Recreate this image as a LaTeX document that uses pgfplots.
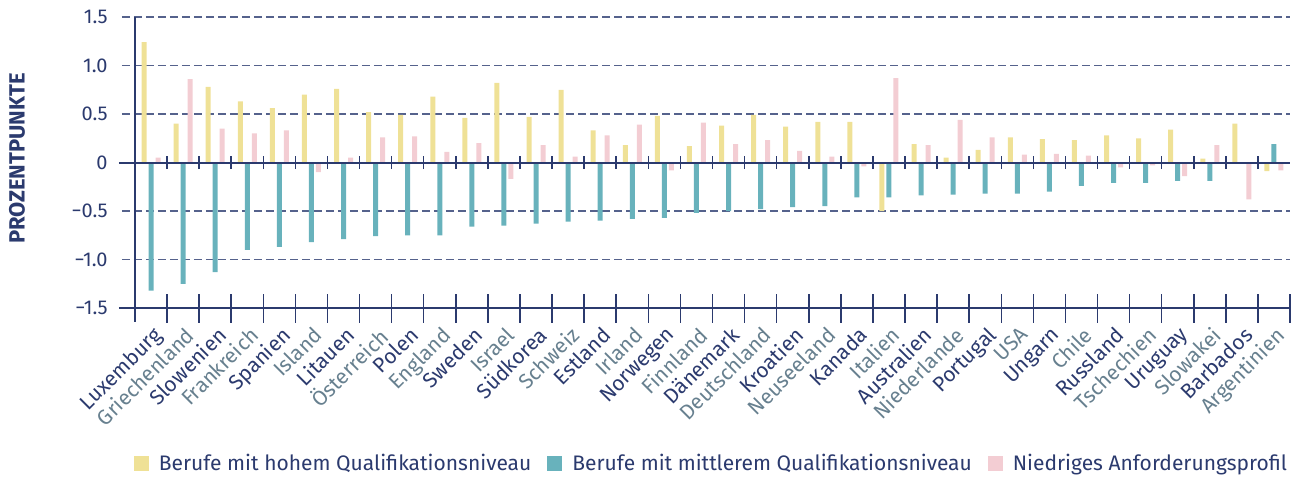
\documentclass[border=0pt]{standalone}
\usepackage{pgfplots}
\usepackage{pgfplotstable}
\pgfplotsset{compat=1.18}
\usepackage{fontspec}
\setmainfont{Fira Sans}
\definecolor{gelb}{RGB}{239,225,150}
\definecolor{petrol}{RGB}{104,178,188}
\definecolor{rosa}{RGB}{243,205,211}
\definecolor{navy}{RGB}{43,58,110}
\definecolor{grau}{RGB}{103,128,143}
\definecolor{gitter}{RGB}{85,98,140}
\newcommand{\cA}[1]{\textcolor{navy}{#1}}
\newcommand{\cB}[1]{\textcolor{grau}{#1}}
\pgfplotsset{ybar legend/.style={legend image code/.code={\fill[##1] (0pt,-3.75pt) rectangle (7.5pt,3.75pt);}}}

% x: Land (0 = Luxemburg ... 35 = Argentinien)
\pgfplotstableread{
x hoch mittel niedrig
0 1.24 -1.32 0.05
1 0.40 -1.25 0.86
2 0.78 -1.13 0.35
3 0.63 -0.90 0.30
4 0.56 -0.87 0.33
5 0.70 -0.82 -0.10
6 0.76 -0.79 0.05
7 0.52 -0.76 0.26
8 0.49 -0.75 0.27
9 0.68 -0.75 0.11
10 0.46 -0.66 0.20
11 0.82 -0.65 -0.17
12 0.47 -0.63 0.18
13 0.75 -0.61 0.06
14 0.33 -0.60 0.28
15 0.18 -0.58 0.39
16 0.48 -0.57 -0.08
17 0.17 -0.52 0.41
18 0.38 -0.50 0.19
19 0.49 -0.48 0.23
20 0.37 -0.46 0.12
21 0.42 -0.45 0.06
22 0.42 -0.36 -0.04
23 -0.50 -0.36 0.87
24 0.19 -0.34 0.18
25 0.05 -0.33 0.44
26 0.13 -0.32 0.26
27 0.26 -0.32 0.08
28 0.24 -0.30 0.09
29 0.23 -0.24 0.07
30 0.28 -0.21 -0.05
31 0.25 -0.21 -0.03
32 0.34 -0.19 -0.14
33 0.04 -0.19 0.18
34 0.40 0.00 -0.38
35 -0.09 0.19 -0.08
}\data

\begin{document}
\begin{tikzpicture}
\begin{axis}[
  scale only axis,
  width=577.5pt, height=145.5pt,
  xmin=-0.5, xmax=35.5, ymin=-1.5, ymax=1.5,
  ybar=1pt, bar width=2.5pt,
  legend image code/.code={\fill[#1] (0pt,-3.75pt) rectangle (7.5pt,3.75pt);},
  clip=false,
  axis line style={draw=none},
  xtick={0,...,35},
  xticklabels={\cA{Luxemburg},\cB{Griechenland},\cA{Slowenien},\cB{Frankreich},\cA{Spanien},\cB{Island},\cA{Litauen},\cB{Österreich},\cA{Polen},\cB{England},\cA{Sweden},\cB{Israel},\cA{Südkorea},\cB{Schweiz},\cA{Estland},\cB{Irland},\cA{Norwegen},\cB{Finnland},\cA{Dänemark},\cB{Deutschland},\cA{Kroatien},\cB{Neuseeland},\cA{Kanada},\cB{Italien},\cA{Australien},\cB{Niederlande},\cA{Portugal},\cB{USA},\cA{Ungarn},\cB{Chile},\cA{Russland},\cB{Tschechien},\cA{Uruguay},\cB{Slowakei},\cA{Barbados},\cB{Argentinien}},
  minor xtick={0.5,1.5,...,35.5},
  xtick pos=left,
  ytick pos=left,
  major tick length=0pt,
  minor tick length=14.5pt,
  tick align=center,
  minor tick style={navy, line width=0.75pt},
  xticklabel style={xshift=0.5pt, yshift=-8.5pt, rotate=45, anchor=north east, inner sep=0pt, font=\fontsize{10.5}{11}\selectfont},
  ytick={-1.5,-1,...,1.5},
  yticklabels={−1.5,−1.0,−0.5,0,0.5,1.0,1.5},
  yticklabel style={anchor=east, inner sep=0pt, xshift=-13.5pt, text=navy, font=\fontsize{10}{11}\selectfont},
  ylabel={PROZENTPUNKTE},
  every axis y label/.style={at={(axis description cs:0,0.5)}, xshift=-59pt, yshift=2pt, rotate=90, anchor=center, text=navy, font=\fontsize{11}{12}\selectfont\bfseries},
  legend style={at={(0.5,-0.536)}, anchor=center, draw=none, legend columns=3, text=navy,
    font=\fontsize{10.5}{11}\selectfont,
    /tikz/every odd column/.append style={column sep=3pt},
    /tikz/every even column/.append style={column sep=6pt}},
]
% Gitterlinien
\foreach \yy in {-1,-0.5,0.5,1,1.5}{
  \edef\tmp{\noexpand\draw[gitter, line width=0.75pt, dash pattern=on 4pt off 2pt] ([xshift=-6.5pt]axis cs:-0.5,\yy) -- (axis cs:35.5,\yy);}\tmp
}
\addplot[fill=gelb, draw=none] table[x=x, y=hoch] {\data};
\addplot[fill=petrol, draw=none] table[x=x, y=mittel] {\data};
\addplot[fill=rosa, draw=none] table[x=x, y=niedrig] {\data};
\legend{Berufe mit hohem Qualifikationsniveau, Berufe mit mittlerem Qualifikationsniveau, Niedriges Anforderungsprofil}
% Achsen
\draw[navy, line width=1pt] ([xshift=-8pt]axis cs:-0.5,0) -- (axis cs:35.5,0);
\draw[navy, line width=1pt] ([xshift=-8pt]axis cs:-0.5,-1.5) -- (axis cs:35.5,-1.5);
\draw[navy, line width=1pt] (axis cs:-0.5,1.5) -- ([yshift=-7pt]axis cs:-0.5,-1.5);
\pgfplotsinvokeforeach{0.5,1.5,...,34.5}{
  \draw[navy, line width=0.75pt] ([yshift=-3.25pt]axis cs:#1,0) -- ([yshift=3.25pt]axis cs:#1,0);
}
\end{axis}
\path ([xshift=-67.5pt, yshift=8.5pt]current axis.north west) rectangle ([xshift=5.5pt, yshift=-85.5pt]current axis.south east);
\end{tikzpicture}
\end{document}
